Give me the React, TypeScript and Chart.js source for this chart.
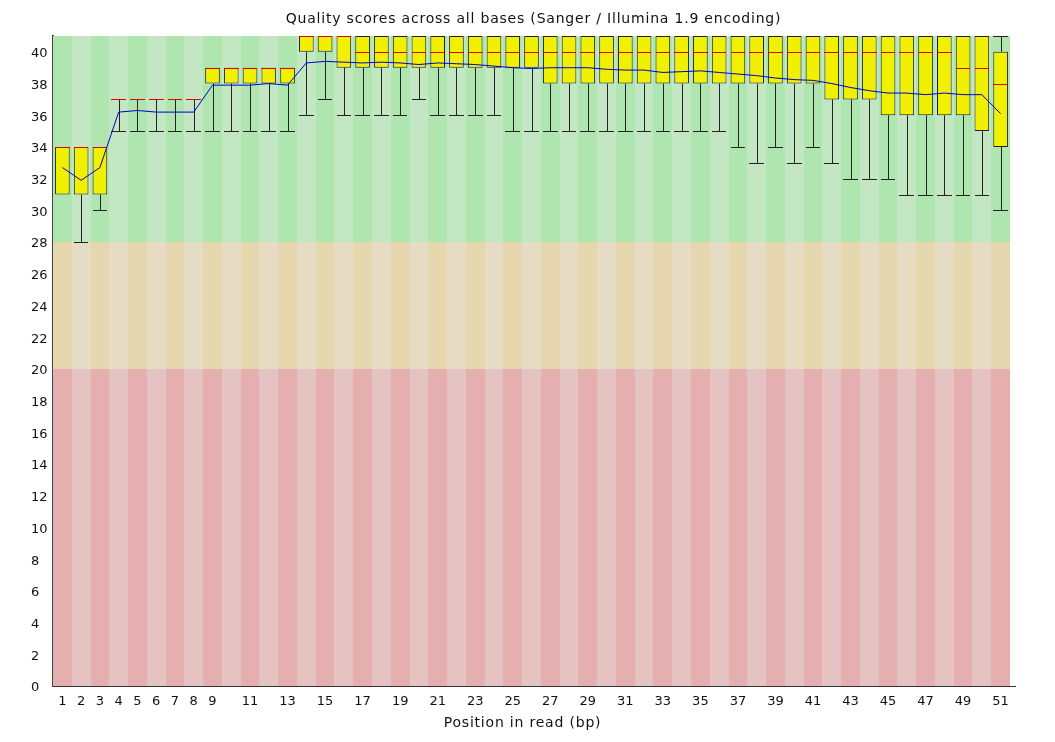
import React, { useEffect, useRef } from "react";
import { Chart, registerables } from "chart.js";

Chart.register(...registerables);

const positions = [
  "1", "2", "3", "4", "5", "6", "7", "8", "9", "10",
  "11", "12", "13", "14", "15", "16", "17", "18", "19", "20",
  "21", "22", "23", "24", "25", "26", "27", "28", "29", "30",
  "31", "32", "33", "34", "35", "36", "37", "38", "39", "40",
  "41", "42", "43", "44", "45", "46", "47", "48", "49", "50", "51",
];

// box bottom (lower quartile)
const lowerQuartile = [
  31, 31, 31, 37, 37, 37, 37, 37, 38, 38,
  38, 38, 38, 40, 40, 39, 39, 39, 39, 39,
  39, 39, 39, 39, 39, 39, 38, 38, 38, 38,
  38, 38, 38, 38, 38, 38, 38, 38, 38, 38,
  38, 37, 37, 37, 36, 36, 36, 36, 36, 35, 34,
];

// box top (upper quartile)
const upperQuartile = [
  34, 34, 34, 37, 37, 37, 37, 37, 39, 39,
  39, 39, 39, 41, 41, 41, 41, 41, 41, 41,
  41, 41, 41, 41, 41, 41, 41, 41, 41, 41,
  41, 41, 41, 41, 41, 41, 41, 41, 41, 41,
  41, 41, 41, 41, 41, 41, 41, 41, 41, 41, 40,
];

const median = [
  34, 34, 34, 37, 37, 37, 37, 37, 39, 39,
  39, 39, 39, 41, 41, 41, 40, 40, 40, 40,
  40, 40, 40, 40, 40, 40, 40, 40, 40, 40,
  40, 40, 40, 40, 40, 40, 40, 40, 40, 40,
  40, 40, 40, 40, 40, 40, 40, 40, 39, 39, 38,
];

const lowerWhisker = [
  31, 28, 30, 35, 35, 35, 35, 35, 35, 35,
  35, 35, 35, 36, 37, 36, 36, 36, 36, 37,
  36, 36, 36, 36, 35, 35, 35, 35, 35, 35,
  35, 35, 35, 35, 35, 35, 34, 33, 34, 33,
  34, 33, 32, 32, 32, 31, 31, 31, 31, 31, 30,
];

const upperWhisker = [
  34, 34, 34, 37, 37, 37, 37, 37, 39, 39,
  39, 39, 39, 41, 41, 41, 41, 41, 41, 41,
  41, 41, 41, 41, 41, 41, 41, 41, 41, 41,
  41, 41, 41, 41, 41, 41, 41, 41, 41, 41,
  41, 41, 41, 41, 41, 41, 41, 41, 41, 41, 41,
];

const meanQuality = [
  32.7, 31.9, 32.7, 36.2, 36.3, 36.2, 36.2, 36.2, 37.9, 37.9,
  37.9, 38.0, 37.9, 39.3, 39.4, 39.35, 39.3, 39.35, 39.3, 39.2,
  39.3, 39.25, 39.2, 39.1, 39.0, 38.95, 39.0, 39.0, 39.0, 38.9,
  38.85, 38.85, 38.7, 38.75, 38.8, 38.7, 38.6, 38.5, 38.35, 38.25,
  38.2, 38.0, 37.75, 37.55, 37.4, 37.4, 37.3, 37.4, 37.3, 37.3, 36.1,
];

// quality zones: [from, to]
const zoneRed = [0, 20];
const zoneOrange = [20, 28];
const zoneGreen = [28, 41];

const chartTitle = "Quality scores across all bases (Sanger / Illumina 1.9 encoding)";
const xTitle = "Position in read (bp)";

const FONT = '"DejaVu Sans", "Liberation Sans", sans-serif';

const zones = [
  { range: zoneRed, dark: "rgb(230,175,175)", light: "rgb(230,195,195)" },
  { range: zoneOrange, dark: "rgb(230,215,175)", light: "rgb(230,220,195)" },
  { range: zoneGreen, dark: "rgb(175,230,175)", light: "rgb(195,230,195)" },
];

const bandsPlugin = {
  id: "bands",
  beforeDatasetsDraw(chart: any) {
    const { ctx, scales } = chart;
    const x = scales.x;
    const y = scales.y;
    const w = x.getPixelForValue(1) - x.getPixelForValue(0);
    ctx.save();
    for (let i = 0; i < positions.length; i++) {
      const cx = x.getPixelForValue(i);
      const left = Math.round(cx - w / 2);
      const right = Math.round(cx + w / 2);
      for (const z of zones) {
        const top = Math.round(y.getPixelForValue(z.range[1]));
        const bottom = Math.round(y.getPixelForValue(z.range[0]));
        ctx.fillStyle = i % 2 === 0 ? z.dark : z.light;
        ctx.fillRect(left, top, right - left, bottom - top);
      }
    }
    ctx.restore();
  },
};

const boxPlugin = {
  id: "boxParts",
  afterDatasetDraw(chart: any, args: any) {
    if (args.index !== 0) return;
    const { ctx, scales } = chart;
    const y = scales.y;
    const meta = chart.getDatasetMeta(0);
    ctx.save();
    meta.data.forEach((bar: any, i: number) => {
      const cx = Math.round(bar.x) + 0.5;
      const half = bar.width / 2;
      const l = Math.round(bar.x - half);
      const r = Math.round(bar.x + half);
      ctx.strokeStyle = "#222";
      ctx.lineWidth = 1;
      const yq3 = y.getPixelForValue(upperQuartile[i]);
      const yuw = Math.round(y.getPixelForValue(upperWhisker[i])) + 0.5;
      const yq1 = y.getPixelForValue(lowerQuartile[i]);
      const ylw = Math.round(y.getPixelForValue(lowerWhisker[i])) + 0.5;
      ctx.beginPath();
      if (upperWhisker[i] > upperQuartile[i]) {
        ctx.moveTo(cx, yq3);
        ctx.lineTo(cx, yuw);
        ctx.moveTo(l, yuw);
        ctx.lineTo(r, yuw);
      }
      if (lowerWhisker[i] < lowerQuartile[i]) {
        ctx.moveTo(cx, yq1);
        ctx.lineTo(cx, ylw);
        ctx.moveTo(l, ylw);
        ctx.lineTo(r, ylw);
      }
      ctx.stroke();
      const ym = Math.round(y.getPixelForValue(median[i])) + 0.5;
      ctx.strokeStyle = "rgb(220,0,0)";
      ctx.beginPath();
      ctx.moveTo(l, ym);
      ctx.lineTo(r, ym);
      ctx.stroke();
    });
    ctx.restore();
  },
};

const textPlugin = {
  id: "texts",
  afterDraw(chart: any) {
    const { ctx, chartArea } = chart;
    const mid = (chartArea.left + chartArea.right) / 2;
    ctx.save();
    // small extension of the x axis line past the plot, as in the original
    ctx.strokeStyle = "#333";
    ctx.lineWidth = 1;
    ctx.beginPath();
    ctx.moveTo(chartArea.right, Math.round(chartArea.bottom) + 0.5);
    ctx.lineTo(chartArea.right + 6, Math.round(chartArea.bottom) + 0.5);
    ctx.stroke();
    ctx.fillStyle = "#111";
    ctx.font = `14px ${FONT}`;
    (ctx as any).letterSpacing = "0.8px";
    ctx.textAlign = "center";
    ctx.textBaseline = "middle";
    ctx.fillText(chartTitle, mid + 2, chartArea.top - 17);
    ctx.fillText(xTitle, mid - 9, chart.height - 19);
    ctx.restore();
  },
};

export default function App() {
  const ref = useRef<HTMLCanvasElement | null>(null);

  useEffect(() => {
    if (!ref.current) return;
    const boxes = lowerQuartile.map((q, i) => [q, upperQuartile[i]]);
    const chart = new Chart(ref.current, {
      type: "bar",
      data: {
        labels: positions,
        datasets: [
          {
            type: "bar",
            label: "Interquartile range",
            data: boxes as any,
            backgroundColor: "rgb(240,240,0)",
            borderColor: "#222",
            borderWidth: 1,
            borderSkipped: false,
            barPercentage: 0.78,
            categoryPercentage: 1,
            order: 2,
          },
          {
            type: "line",
            label: "Mean",
            data: meanQuality,
            borderColor: "rgb(0,0,200)",
            borderWidth: 1,
            pointRadius: 0,
            fill: false,
            tension: 0,
            order: 1,
          },
        ],
      },
      options: {
        animation: false,
        responsive: false,
        events: [],
        layout: { padding: { top: 36, left: 31, right: 45, bottom: 0 } },
        plugins: {
          legend: { display: false },
          tooltip: { enabled: false },
          title: { display: false },
        },
        scales: {
          x: {
            type: "category",
            offset: true,
            grid: { display: false, drawTicks: false },
            border: { display: true, color: "#333", width: 1 },
            ticks: {
              autoSkip: false,
              maxRotation: 0,
              minRotation: 0,
              padding: 8,
              color: "#111",
              font: { family: FONT, size: 13 },
              callback: (_v: any, index: number) =>
                index < 9 || index % 2 === 0 ? positions[index] : "",
            },
            afterFit: (s: any) => {
              s.height = 56;
            },
          },
          y: {
            min: 0,
            max: 41,
            grid: { display: false, drawTicks: false },
            border: { display: true, color: "#444", width: 2 },
            ticks: {
              stepSize: 2,
              crossAlign: "far",
              padding: 4,
              labelOffset: 2,
              color: "#111",
              font: { family: FONT, size: 13 },
            },
            afterBuildTicks: (s: any) => {
              s.ticks = s.ticks.filter((t: any) => t.value % 2 === 0);
            },
            afterFit: (s: any) => {
              s.width = 22;
            },
          },
        },
      },
      plugins: [bandsPlugin, boxPlugin, textPlugin],
    });
    return () => chart.destroy();
  }, []);

  return (
    <div style={{ position: "absolute", left: 0, top: 0, width: 1055, height: 742, background: "#fff" }}>
      <canvas ref={ref} width={1055} height={742} style={{ display: "block" }} />
    </div>
  );
}
